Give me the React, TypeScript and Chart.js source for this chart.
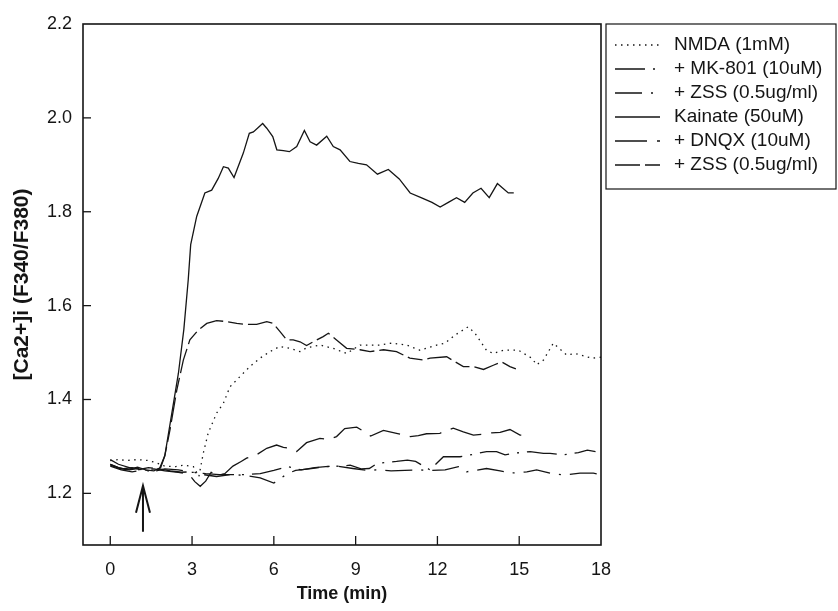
import React, { useEffect, useRef } from 'react';
import { Chart, registerables } from 'chart.js';

Chart.register(...registerables);

// ---------- data ----------
const xTicks = [0, 3, 6, 9, 12, 15, 18];
const yTicks = [1.2, 1.4, 1.6, 1.8, 2.0, 2.2];
const xTitle = 'Time (min)';
const yTitle = '[Ca2+]i (F340/F380)';
const arrowTime = 1.2;
const arrowFrom = 1.118;
const arrowTo = 1.216;

const seriesLabels = [
  'NMDA (1mM)',
  '+ MK-801 (10uM)',
  '+ ZSS (0.5ug/ml)',
  'Kainate (50uM)',
  '+ DNQX (10uM)',
  '+ ZSS (0.5ug/ml)',
];

// [time (min), ratio]
const nmda: [number, number][] = [
  [0, 1.27], [0.3, 1.272], [0.6, 1.27], [1.0, 1.272], [1.4, 1.27], [1.7, 1.265], [2.0, 1.258],
  [2.4, 1.257], [2.7, 1.26], [3.05, 1.257], [3.25, 1.236], [3.41, 1.285], [3.59, 1.328],
  [3.9, 1.371], [4.15, 1.392], [4.39, 1.427], [4.76, 1.449], [5.12, 1.47], [5.49, 1.488],
  [5.86, 1.502], [6.22, 1.513], [6.59, 1.509], [6.96, 1.502], [7.2, 1.51], [7.69, 1.516],
  [8.18, 1.509], [8.67, 1.498], [9.16, 1.516], [9.9, 1.516], [10.32, 1.52], [10.87, 1.516],
  [11.36, 1.505], [11.97, 1.516], [12.28, 1.52], [12.64, 1.537], [13.13, 1.555], [13.38, 1.541],
  [13.8, 1.505], [14.05, 1.498], [14.42, 1.505], [14.97, 1.505], [15.46, 1.488], [15.64, 1.474],
  [15.89, 1.484], [16.25, 1.52], [16.74, 1.495], [17.05, 1.498], [17.66, 1.488], [18.0, 1.49],
];

const mk801: [number, number][] = [
  [0, 1.262], [0.3, 1.255], [0.7, 1.25], [1.0, 1.253], [1.4, 1.248], [1.8, 1.252], [2.2, 1.248],
  [2.6, 1.245], [3.0, 1.246], [3.4, 1.24], [3.9, 1.236], [4.4, 1.24], [4.9, 1.24], [5.5, 1.242],
  [6.0, 1.249], [6.5, 1.257], [7.0, 1.25], [7.5, 1.255], [7.9, 1.257], [8.4, 1.258], [8.8, 1.26],
  [9.2, 1.252], [9.5, 1.253], [9.8, 1.264], [10.5, 1.268], [10.9, 1.271], [11.2, 1.268],
  [11.73, 1.25], [12.22, 1.278], [12.83, 1.278], [13.3, 1.283], [13.8, 1.289], [14.17, 1.289],
  [14.48, 1.282], [14.9, 1.286], [15.4, 1.289], [15.89, 1.285], [16.13, 1.285], [16.62, 1.282],
  [17.17, 1.287], [17.5, 1.292], [17.8, 1.289],
];

const zssNmda: [number, number][] = [
  [0, 1.258], [0.4, 1.25], [0.8, 1.246], [1.2, 1.25], [1.6, 1.247], [2.0, 1.252], [2.5, 1.25],
  [3.0, 1.245], [3.5, 1.242], [4.0, 1.24], [4.5, 1.24], [5.0, 1.238], [5.5, 1.233], [6.0, 1.222],
  [6.5, 1.242], [6.8, 1.249], [7.3, 1.252], [7.85, 1.257], [8.3, 1.258], [8.9, 1.253],
  [9.4, 1.249], [9.77, 1.25], [10.3, 1.248], [10.81, 1.249], [11.3, 1.25], [11.8, 1.249],
  [12.28, 1.25], [12.77, 1.257], [13.07, 1.246], [13.8, 1.253], [14.3, 1.248], [14.66, 1.243],
  [15.28, 1.246], [15.64, 1.25], [16.13, 1.243], [16.62, 1.239], [17.23, 1.243], [17.72, 1.243],
  [18.0, 1.24],
];

const kainate: [number, number][] = [
  [0, 1.262], [0.3, 1.255], [0.6, 1.25], [1.0, 1.256], [1.3, 1.25], [1.6, 1.248], [1.85, 1.255],
  [2.0, 1.28], [2.2, 1.35], [2.5, 1.456], [2.7, 1.55], [2.86, 1.655], [2.95, 1.73], [3.17, 1.79],
  [3.47, 1.84], [3.72, 1.846], [3.96, 1.871], [4.15, 1.896], [4.33, 1.893], [4.54, 1.873],
  [4.88, 1.925], [5.1, 1.967], [5.25, 1.97], [5.59, 1.988], [5.74, 1.978], [5.96, 1.96],
  [6.11, 1.932], [6.35, 1.93], [6.57, 1.928], [6.84, 1.939], [7.12, 1.973], [7.33, 1.949],
  [7.57, 1.942], [7.94, 1.961], [8.18, 1.939], [8.43, 1.932], [8.79, 1.907], [9.1, 1.903],
  [9.4, 1.9], [9.8, 1.88], [10.2, 1.89], [10.6, 1.87], [11.0, 1.84], [11.4, 1.83], [11.8, 1.82],
  [12.1, 1.81], [12.4, 1.82], [12.7, 1.83], [13.0, 1.82], [13.3, 1.84], [13.6, 1.85], [13.9, 1.83],
  [14.2, 1.86], [14.4, 1.85], [14.6, 1.84], [14.8, 1.84],
];

const dnqx: [number, number][] = [
  [0, 1.26], [0.4, 1.252], [0.8, 1.255], [1.2, 1.25], [1.6, 1.252], [2.0, 1.248], [2.5, 1.245],
  [2.9, 1.24], [3.1, 1.225], [3.3, 1.215], [3.5, 1.226], [3.7, 1.245], [3.92, 1.238], [4.2, 1.242],
  [4.5, 1.258], [4.8, 1.268], [5.0, 1.275], [5.36, 1.282], [5.74, 1.296], [6.1, 1.303],
  [6.35, 1.298], [6.59, 1.296], [6.84, 1.289], [7.2, 1.308], [7.69, 1.317], [8.0, 1.315],
  [8.3, 1.321], [8.6, 1.338], [9.04, 1.341], [9.3, 1.332], [9.55, 1.322], [10.02, 1.334],
  [10.5, 1.328], [11.0, 1.321], [11.3, 1.323], [11.6, 1.327], [12.09, 1.328], [12.58, 1.339],
  [12.95, 1.331], [13.32, 1.324], [13.69, 1.326], [13.99, 1.329], [14.3, 1.33], [14.66, 1.336],
  [15.03, 1.324], [15.33, 1.324],
];

const zssKainate: [number, number][] = [
  [0, 1.272], [0.3, 1.262], [0.7, 1.255], [1.0, 1.25], [1.4, 1.255], [1.8, 1.252], [2.0, 1.28],
  [2.19, 1.335], [2.44, 1.42], [2.68, 1.484], [2.92, 1.527], [3.23, 1.548], [3.54, 1.562],
  [3.9, 1.568], [4.27, 1.566], [4.64, 1.562], [5.0, 1.56], [5.37, 1.56], [5.74, 1.566],
  [5.98, 1.562], [6.22, 1.545], [6.47, 1.527], [6.71, 1.527], [6.96, 1.523], [7.2, 1.515],
  [7.45, 1.523], [7.81, 1.534], [8.0, 1.541], [8.3, 1.527], [8.67, 1.509], [9.16, 1.506],
  [9.53, 1.502], [10.02, 1.506], [10.5, 1.502], [10.99, 1.488], [11.48, 1.484], [11.73, 1.488],
  [12.34, 1.491], [12.95, 1.47], [13.32, 1.47], [13.69, 1.464], [14.05, 1.473], [14.36, 1.48],
  [14.66, 1.47], [14.97, 1.463],
];

const seriesData = [nmda, mk801, zssNmda, kainate, dnqx, zssKainate];
const seriesDash: number[][] = [
  [1.5, 4.5],
  [30, 8, 2, 8],
  [27, 9, 2, 9],
  [],
  [32, 10],
  [25, 5, 15, 5],
];

// ---------- styling ----------
const INK = '#151515';
const FONT = '"Liberation Sans", Arial, Helvetica, sans-serif';

const decorPlugin = {
  id: 'decor',
  afterDraw(chart: any) {
    const { ctx, chartArea, scales } = chart;
    const { left, right, top, bottom } = chartArea;
    const x = scales.x;
    const y = scales.y;
    ctx.save();
    ctx.strokeStyle = INK;
    ctx.setLineDash([]);
    // frame
    ctx.lineWidth = 1.6;
    ctx.strokeRect(left, top, right - left, bottom - top);
    // inward ticks
    ctx.lineWidth = 1.3;
    xTicks.forEach((t) => {
      const px = x.getPixelForValue(t);
      if (px > left + 2 && px < right - 2) {
        ctx.beginPath();
        ctx.moveTo(px, bottom);
        ctx.lineTo(px, bottom - 9);
        ctx.stroke();
      }
    });
    yTicks.forEach((v) => {
      const py = y.getPixelForValue(v);
      if (py > top + 2 && py < bottom - 2) {
        ctx.beginPath();
        ctx.moveTo(left, py);
        ctx.lineTo(left + 8, py);
        ctx.stroke();
      }
    });
    // arrow
    const ax = x.getPixelForValue(arrowTime);
    const ay0 = y.getPixelForValue(arrowFrom);
    const ay1 = y.getPixelForValue(arrowTo);
    ctx.lineWidth = 2;
    ctx.beginPath();
    ctx.moveTo(ax, ay0);
    ctx.lineTo(ax, ay1);
    ctx.moveTo(ax - 7, ay1 + 27);
    ctx.lineTo(ax, ay1);
    ctx.lineTo(ax + 7, ay1 + 27);
    ctx.stroke();

    // legend
    const lx = right + 5;
    const ly = top;
    const lw = 836 - lx;
    const lh = 165;
    ctx.lineWidth = 1.2;
    ctx.strokeRect(lx, ly, lw, lh);
    ctx.font = '19px ' + FONT;
    ctx.fillStyle = INK;
    ctx.textBaseline = 'middle';
    ctx.textAlign = 'left';
    chart.data.datasets.forEach((ds: any, i: number) => {
      const ry = ly + 21 + i * 24;
      ctx.lineWidth = 1.3;
      ctx.setLineDash(ds.borderDash || []);
      ctx.beginPath();
      ctx.moveTo(lx + 9, ry);
      ctx.lineTo(lx + 54, ry);
      ctx.stroke();
      ctx.setLineDash([]);
      ctx.fillText(ds.label, lx + 68, ry);
    });
    ctx.restore();
  },
};

export default function App() {
  const ref = useRef<HTMLCanvasElement | null>(null);

  useEffect(() => {
    document.body.style.margin = '0';
    const canvas = ref.current;
    if (!canvas) return;
    const datasets = seriesData.map((pts, i) => ({
      label: seriesLabels[i],
      data: pts.map(([t, v]) => ({ x: t, y: v })),
      borderColor: INK,
      backgroundColor: INK,
      borderWidth: 1.3,
      borderDash: seriesDash[i],
      pointRadius: 0,
      tension: 0,
      fill: false,
    }));
    const chart = new Chart(canvas, {
      type: 'line',
      data: { datasets },
      plugins: [decorPlugin],
      options: {
        animation: false,
        responsive: false,
        devicePixelRatio: 1,
        layout: { padding: { left: 0, top: 24, right: 237, bottom: 0 } },
        plugins: { legend: { display: false }, tooltip: { enabled: false } },
        scales: {
          x: {
            type: 'linear',
            min: -1,
            max: 18,
            afterFit: (s: any) => { s.height = 66; },
            afterBuildTicks: (s: any) => { s.ticks = xTicks.map((v) => ({ value: v })); },
            grid: { display: false, drawTicks: false },
            border: { display: false },
            ticks: {
              color: INK,
              padding: 14,
              font: { family: FONT, size: 18 },
              callback: (v: any) => String(v),
              maxRotation: 0,
            },
            title: {
              display: true,
              text: xTitle,
              color: INK,
              font: { family: FONT, size: 18, weight: 'bold' },
              padding: { top: 0, bottom: 6 },
            },
          },
          y: {
            type: 'linear',
            min: 1.09,
            max: 2.2,
            afterFit: (s: any) => { s.width = 83; },
            afterBuildTicks: (s: any) => { s.ticks = yTicks.map((v) => ({ value: v })); },
            grid: { display: false, drawTicks: false },
            border: { display: false },
            ticks: {
              color: INK,
              padding: 11,
              font: { family: FONT, size: 18 },
              callback: (v: any) => Number(v).toFixed(1),
            },
            title: {
              display: true,
              text: yTitle,
              color: INK,
              font: { family: FONT, size: 21, weight: 'bold' },
              padding: { top: 10, bottom: 0 },
            },
          },
        },
      },
    });
    return () => chart.destroy();
  }, []);

  return (
    <div style={{ position: 'absolute', left: 0, top: 0, width: 838, height: 611, background: '#fff' }}>
      <canvas ref={ref} width={838} height={611} style={{ width: 838, height: 611, display: 'block' }} />
    </div>
  );
}
